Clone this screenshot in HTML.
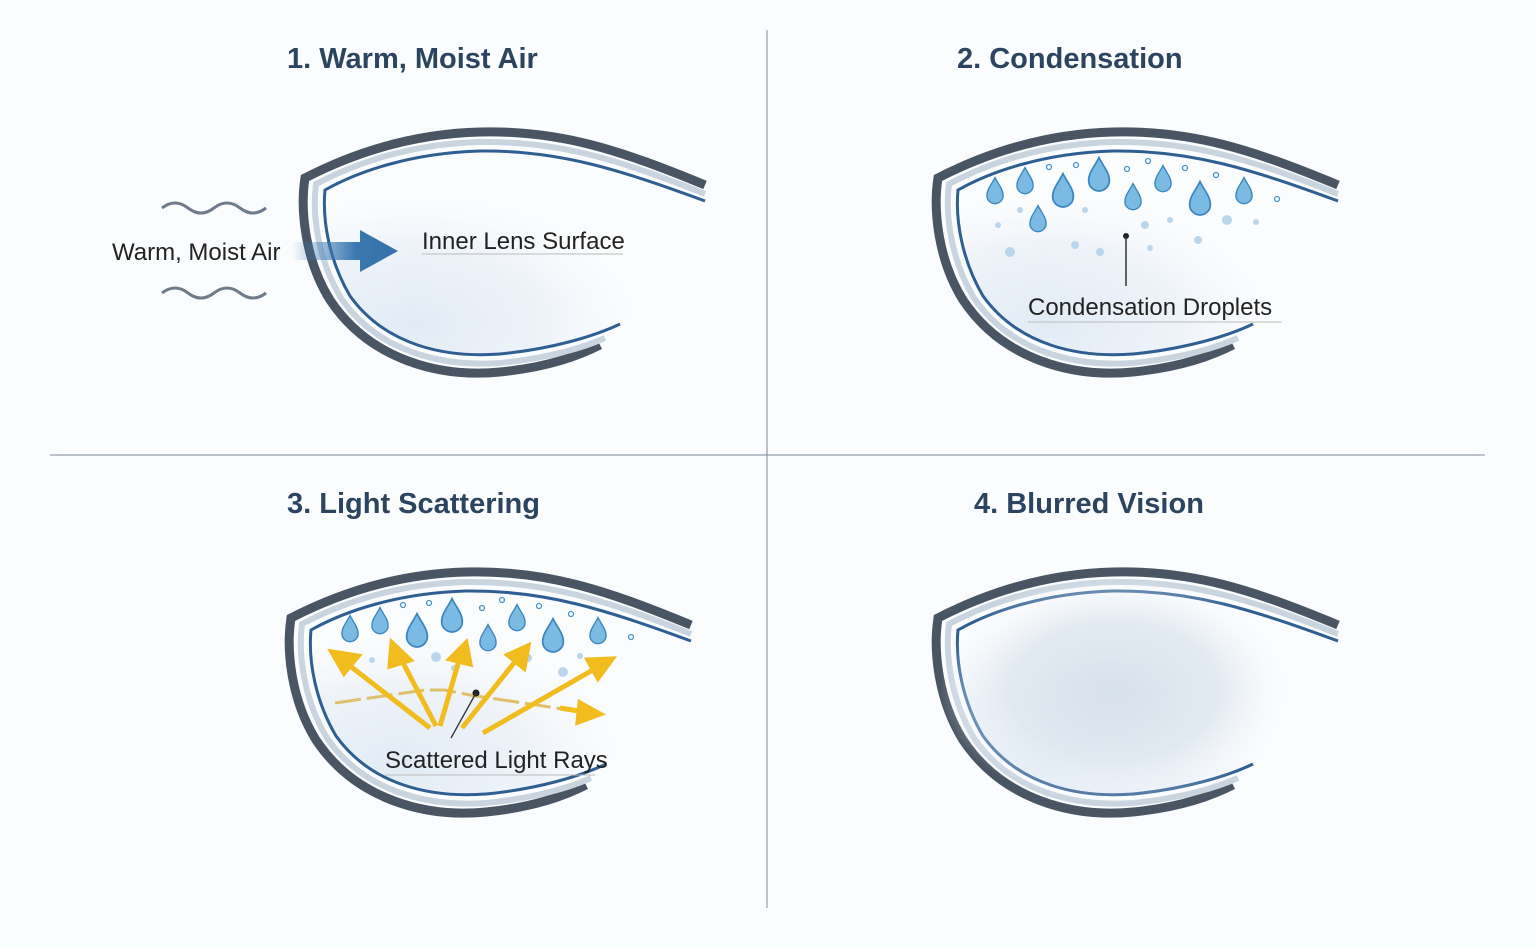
<!DOCTYPE html>
<html><head><style>
body{margin:0;background:#fbfcfd;width:1536px;height:943px;overflow:hidden;font-family:"Liberation Sans",sans-serif}
</style></head><body>
<svg width="1536" height="943" viewBox="0 0 1536 943" xmlns="http://www.w3.org/2000/svg">
<defs>
<radialGradient id="fillg" cx="0.25" cy="0.85" r="0.75">
<stop offset="0" stop-color="#e2ebf5"/><stop offset="0.5" stop-color="#eef3f9"/><stop offset="1" stop-color="#ffffff" stop-opacity="0"/>
</radialGradient>
<linearGradient id="arr" x1="0" y1="0" x2="1" y2="0">
<stop offset="0" stop-color="#3b78b0" stop-opacity="0"/><stop offset="0.6" stop-color="#3b78b0"/><stop offset="1" stop-color="#3570a8"/>
</linearGradient>
<radialGradient id="fog" cx="0.5" cy="0.5" r="0.5">
<stop offset="0" stop-color="#d3dee8"/><stop offset="0.6" stop-color="#dfe7ef"/><stop offset="1" stop-color="#f4f7fa" stop-opacity="0"/>
</radialGradient>
<g id="lens">
<path d="M325,188 C355,170 410,152 480,150 C560,150 620,170 680,190 L680,290 C650,310 630,320 620,323 C590,335 550,348 500,353 C445,358 385,345 350,295 C330,260 322,220 325,188Z" fill="url(#fillg)"/>
<path d="M705,185 C620,150 560,130 480,132 C400,134 340,160 305,178 C300,210 305,260 330,300 C370,360 440,378 500,372 C550,367 580,355 600,345" fill="none" stroke="#4a5563" stroke-width="9"/>
<path d="M705,194 C620,160 560,141 480,142 C405,144 350,166 316,184 C312,215 318,260 341,298 C378,352 442,367 500,363 C550,358 585,347 605,338" fill="none" stroke="#c9d4df" stroke-width="6"/>
<path d="M705,201 C620,170 560,150 480,151 C410,153 357,172 325,190 C322,222 330,262 350,296 C386,346 446,358 500,354 C552,349 595,336 620,324" fill="none" stroke="#2f5f92" stroke-width="3"/>
</g>
<path id="drop" d="M0,-16 C4,-8 9,-3 9,4 A9,9 0 0 1 -9,4 C-9,-3 -4,-8 0,-16Z" fill="#7bbbe3" stroke="#3a86bf" stroke-width="1.5"/>
</defs>

<line x1="767" y1="30" x2="767" y2="908" stroke="#7d8a96" stroke-width="1"/>
<line x1="50" y1="455" x2="1485" y2="455" stroke="#7d8a96" stroke-width="1"/>

<g font-weight="bold" font-size="29" fill="#2c4460">
<text x="287" y="68">1. Warm, Moist Air</text>
<text x="957" y="68">2. Condensation</text>
<text x="287" y="513">3. Light Scattering</text>
<text x="974" y="513">4. Blurred Vision</text>
</g>

<!-- Panel 1 -->
<use href="#lens"/>
<path d="M162,208 q13,-10 26,0 t26,0 t26,0 t26,0" fill="none" stroke="#6f7b88" stroke-width="3"/>
<path d="M162,293 q13,-10 26,0 t26,0 t26,0 t26,0" fill="none" stroke="#6f7b88" stroke-width="3"/>
<text x="112" y="260" font-size="24" fill="#222">Warm, Moist Air</text>
<path d="M292,242 L360,242 L360,230 L398,251 L360,272 L360,260 L292,260Z" fill="url(#arr)"/>
<text x="422" y="249" font-size="24" fill="#222">Inner Lens Surface</text>
<line x1="422" y1="254" x2="623" y2="254" stroke="#bbb" stroke-width="1"/>

<!-- Panel 2 -->
<use href="#lens" transform="translate(633,0)"/>
<g>
<use href="#drop" transform="translate(995,192) scale(0.9)"/>
<use href="#drop" transform="translate(1025,182) scale(0.9)"/>
<use href="#drop" transform="translate(1063,192) scale(1.15)"/>
<use href="#drop" transform="translate(1099,176) scale(1.15)"/>
<use href="#drop" transform="translate(1133,198) scale(0.9)"/>
<use href="#drop" transform="translate(1163,180) scale(0.9)"/>
<use href="#drop" transform="translate(1200,200) scale(1.15)"/>
<use href="#drop" transform="translate(1244,192) scale(0.9)"/>
<use href="#drop" transform="translate(1038,220) scale(0.9)"/>
</g>
<g fill="#b9d6ec">
<circle cx="1010" cy="252" r="5"/><circle cx="1020" cy="210" r="3"/><circle cx="1075" cy="245" r="4"/><circle cx="1100" cy="252" r="4"/><circle cx="1145" cy="225" r="4"/><circle cx="1170" cy="220" r="3"/><circle cx="1198" cy="240" r="4"/><circle cx="1227" cy="220" r="5"/><circle cx="1256" cy="222" r="3"/><circle cx="1085" cy="210" r="3"/><circle cx="1150" cy="248" r="3"/><circle cx="998" cy="225" r="3"/>
</g>
<g fill="none" stroke="#4a95c9" stroke-width="1.3">
<circle cx="1049" cy="167" r="2.5"/><circle cx="1076" cy="165" r="2.5"/><circle cx="1127" cy="169" r="2.5"/><circle cx="1148" cy="161" r="2.5"/><circle cx="1185" cy="168" r="2.5"/><circle cx="1216" cy="175" r="2.5"/><circle cx="1277" cy="199" r="2.5"/>
</g>
<circle cx="1126" cy="236" r="3" fill="#222"/>
<line x1="1126" y1="236" x2="1126" y2="286" stroke="#333" stroke-width="1.5"/>
<text x="1028" y="315" font-size="24" fill="#222">Condensation Droplets</text>
<line x1="1028" y1="322" x2="1282" y2="322" stroke="#bbb" stroke-width="1"/>

<!-- Panel 3 -->
<use href="#lens" transform="translate(-14,440)"/>
<g>
<use href="#drop" transform="translate(350,630) scale(0.9)"/>
<use href="#drop" transform="translate(380,622) scale(0.9)"/>
<use href="#drop" transform="translate(417,632) scale(1.15)"/>
<use href="#drop" transform="translate(452,617) scale(1.15)"/>
<use href="#drop" transform="translate(488,639) scale(0.9)"/>
<use href="#drop" transform="translate(517,619) scale(0.9)"/>
<use href="#drop" transform="translate(553,637) scale(1.15)"/>
<use href="#drop" transform="translate(598,632) scale(0.9)"/>
</g>
<g fill="#b9d6ec">
<circle cx="436" cy="657" r="5"/><circle cx="528" cy="658" r="4"/><circle cx="563" cy="672" r="5"/><circle cx="580" cy="656" r="3"/><circle cx="372" cy="660" r="3"/><circle cx="454" cy="668" r="3"/>
</g>
<g fill="none" stroke="#4a95c9" stroke-width="1.3">
<circle cx="403" cy="605" r="2.5"/><circle cx="429" cy="603" r="2.5"/><circle cx="482" cy="608" r="2.5"/><circle cx="502" cy="600" r="2.5"/><circle cx="539" cy="606" r="2.5"/><circle cx="571" cy="614" r="2.5"/><circle cx="631" cy="637" r="2.5"/>
</g>
<path d="M335,703 L425,690 L445,690 L470,695 L570,710" fill="none" stroke="#e0bf6a" stroke-width="3" stroke-dasharray="26,6"/>
<g stroke="#f0bc1e" stroke-width="5" fill="#f0bc1e">
<line x1="430" y1="728" x2="345" y2="662"/><path d="M332,652 L358,656 L344,673Z"/>
<line x1="436" y1="726" x2="400" y2="657"/><path d="M392,643 L410,660 L390,666Z"/>
<line x1="440" y1="726" x2="460" y2="657"/><path d="M466,643 L470,664 L450,659Z"/>
<line x1="462" y1="728" x2="518" y2="658"/><path d="M528,646 L524,668 L508,655Z"/>
<line x1="483" y1="733" x2="598" y2="667"/><path d="M612,659 L598,678 L588,660Z"/>
<line x1="560" y1="708" x2="585" y2="712"/><path d="M600,714 L578,722 L580,703Z"/>
</g>
<circle cx="476" cy="693" r="3.5" fill="#222"/>
<line x1="476" y1="693" x2="451" y2="738" stroke="#333" stroke-width="1.3"/>
<text x="385" y="768" font-size="24" fill="#222">Scattered Light Rays</text>
<line x1="385" y1="775" x2="595" y2="775" stroke="#bbb" stroke-width="1"/>

<!-- Panel 4 -->
<use href="#lens" transform="translate(633,440)"/>
<ellipse cx="1115" cy="690" rx="175" ry="115" fill="url(#fog)" opacity="0.85"/>
</svg>
</body></html>
